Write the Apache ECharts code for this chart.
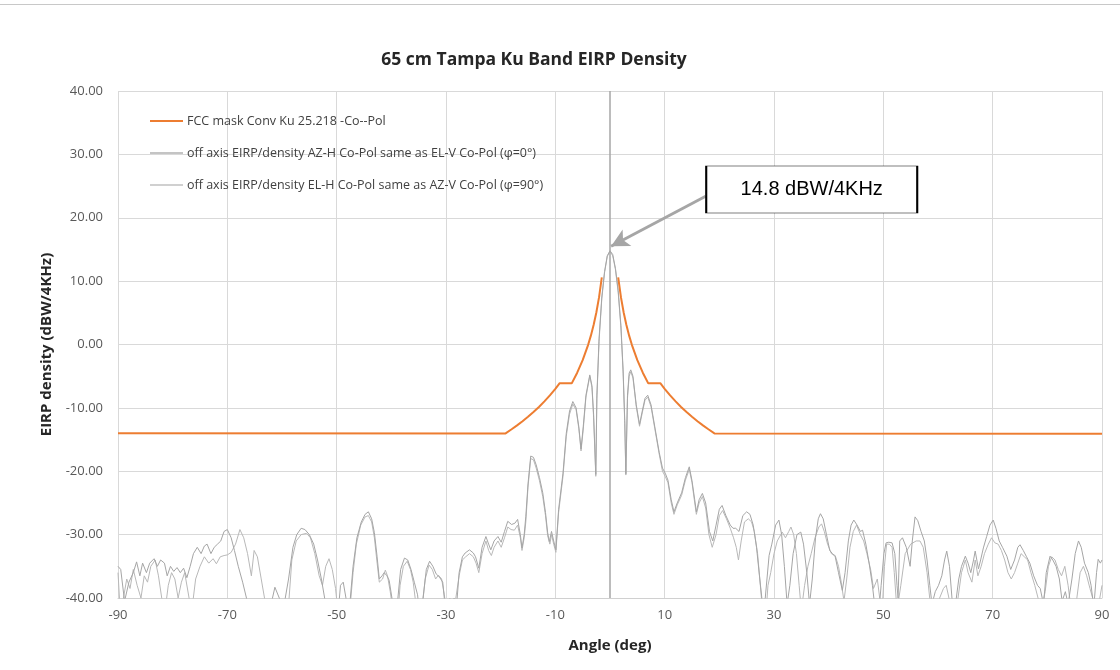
<!DOCTYPE html>
<html>
<head>
<meta charset="utf-8">
<script src="https://cdn.jsdelivr.net/npm/echarts@6/dist/echarts.min.js"></script>
<style>
html,body{margin:0;padding:0;background:#fff;}
#chart{width:1120px;height:670px;}
</style>
</head>
<body>
<div id="chart"></div>
<script>
const chartTitle = '65 cm Tampa Ku Band EIRP Density';
const seriesNames = [
  'FCC mask Conv Ku 25.218 -Co--Pol',
  'off axis EIRP/density AZ-H Co-Pol same as EL-V Co-Pol (\u03C6=0\u00B0)',
  'off axis EIRP/density EL-H Co-Pol same as AZ-V Co-Pol (\u03C6=90\u00B0)'
];
const xTicks = [-90, -70, -50, -30, -10, 10, 30, 50, 70, 90];
const yTicks = [-40, -30, -20, -10, 0, 10, 20, 30, 40];
const peakLabel = '14.8 dBW/4KHz';
const peakValue = 14.8;

// FCC mask (angle, dBW/4kHz); null = gap at boresight
const maskAngles = [-90, -19.1, -18, -17, -16, -15, -14, -13, -12, -11, -10, -9.2, -7, -6, -5, -4, -3.5, -3, -2.5, -2, -1.5, 0,
  1.5, 2, 2.5, 3, 3.5, 4, 5, 6, 7, 9.2, 10, 11, 12, 13, 14, 15, 16, 17, 18, 19.1, 90];
const maskValues = [-14, -14.03, -13.38, -12.76, -12.1, -11.4, -10.65, -9.85, -8.98, -8.03, -7.0, -6.1, -6.13, -4.45, -2.47, -0.05, 1.4, 3.07, 5.05, 7.47, 10.6, null,
  10.6, 7.47, 5.05, 3.07, 1.4, -0.05, -2.47, -4.45, -6.13, -6.1, -7.0, -8.03, -8.98, -9.85, -10.65, -11.4, -12.1, -12.76, -13.38, -14.03, -14.1];

// measured phi=0 cut [angle, dBW/4kHz]
const azHCoPol = [
[-90,-35],[-89.5,-35.5],[-88.8,-40.5],[-88,-37.5],[-87.2,-36],[-86.6,-34.3],[-86,-36.5],[-85.5,-34.5],[-84.8,-36],[-84.2,-34.5],
[-83.4,-33.8],[-82.8,-35],[-82.2,-34],[-81.5,-34.5],[-81,-36.5],[-80.4,-35],[-79.8,-35.8],[-79.2,-35.2],[-78.6,-36],[-78,-35.3],
[-77.4,-36.8],[-76.8,-35],[-76.2,-33],[-75.5,-32],[-74.8,-33],[-74.2,-31.8],[-73.7,-31.5],[-73,-33],[-72.4,-32],[-71.8,-31.5],
[-71.2,-31],[-70.6,-29.5],[-70,-29.2],[-69.3,-30.5],[-68.7,-32.5],[-68,-35],[-67.2,-37.5],[-66.5,-40],[-65.8,-44],[-63,-45],
[-62,-41],[-61.3,-38.3],[-60.5,-40],[-59.8,-42],[-59.5,-42],[-58.8,-37],[-58,-32],[-57.3,-30],[-56.5,-29],[-55.8,-29.2],
[-55,-30],[-54.2,-31.5],[-53.5,-34],[-52.8,-37],[-52.2,-40],[-51.6,-43],[-50,-45],[-49.3,-38],[-48.8,-37.5],[-48.3,-40],
[-47.8,-44],[-47.5,-40],[-47,-35],[-46.3,-30.5],[-45.5,-28],[-44.8,-26.8],[-44.2,-26.4],[-43.6,-27.5],[-43.1,-29.7],[-42.6,-33.5],
[-42.2,-37],[-41.7,-36.5],[-41.3,-36],[-40.8,-36.5],[-40.4,-37.2],[-39.8,-40.5],[-39.3,-44],[-38.8,-40],[-38.3,-35.5],[-37.6,-33.7],
[-37,-34],[-36.4,-35.5],[-35.8,-37.5],[-35.2,-39.5],[-34.8,-43],[-34.2,-40],[-33.6,-35.5],[-33,-34.2],[-32.4,-35],[-31.8,-36.2],
[-31.2,-36.7],[-30.6,-37.5],[-30.2,-41],[-29.6,-45],[-29,-40.5],[-28.5,-40],[-28,-40.5],[-27.6,-36],[-27,-33.5],[-26.5,-32.9],
[-25.7,-32.4],[-25,-32.9],[-24.6,-33.5],[-24,-35.3],[-23.4,-32],[-22.7,-30.3],[-22.2,-31.5],[-21.8,-32.4],[-21.2,-31],[-20.5,-30.3],
[-19.9,-31.2],[-19.3,-29.5],[-18.7,-27.9],[-18,-28.4],[-17.4,-28.2],[-16.9,-27.6],[-16.4,-30],[-16.1,-32.1],[-15.7,-30],[-15.4,-27.1],
[-15,-22],[-14.5,-17.6],[-14,-17.8],[-13.5,-19],[-12.9,-21],[-12.3,-23.4],[-11.8,-26.5],[-11.4,-29.7],[-11.1,-31.1],[-10.7,-29.5],
[-10.3,-31],[-9.9,-32.4],[-9.4,-26],[-8.6,-20.3],[-8,-14],[-7.4,-10.5],[-6.8,-9],[-6.2,-10],[-5.7,-13],[-5.3,-16.5],
[-4.9,-13],[-4.4,-8],[-3.7,-4.8],[-3.3,-6.5],[-3,-11],[-2.6,-20.5],[-2.4,-8],[-2,1],[-1.5,7.5],[-1,11.5],
[-0.5,14],[0,14.8],[0.5,14.2],[1,12],[1.5,8.5],[2,3],[2.4,-4],[2.7,-12],[2.9,-20.4],[3.2,-8],
[3.5,-4.5],[3.8,-4],[4.2,-5],[4.8,-9.5],[5.4,-12.6],[5.9,-10.5],[6.4,-8.5],[6.9,-8],[7.5,-9.5],[8.2,-13],
[9,-17],[9.6,-19.5],[10.1,-20.3],[10.6,-21.4],[11.2,-24.5],[11.7,-26.4],[12.3,-25],[13.1,-23.4],[13.8,-21],[14.5,-19.3],
[15,-21.5],[15.5,-24.5],[15.8,-26.4],[16.3,-24.5],[16.9,-23.5],[17.5,-25],[18.2,-29.5],[18.8,-31],[19.4,-28.5],[20,-26],
[20.5,-25.4],[21.2,-27],[22,-28.5],[22.5,-29],[23,-29],[23.6,-29.5],[24.3,-27],[25,-26.4],[25.6,-26.8],[26.2,-28.5],
[26.8,-32],[27.4,-37],[27.9,-41],[28.4,-40],[29.1,-33.3],[29.6,-31.5],[30.3,-28.5],[30.9,-27.7],[31.4,-30],[31.9,-35],
[32.4,-41],[32.9,-38],[33.5,-33],[34.2,-30],[34.9,-29.6],[35.4,-31.5],[36,-36],[36.5,-41],[37,-37],[37.6,-30.5],
[38.1,-27.5],[38.5,-26.7],[39,-27.5],[39.6,-30],[40.2,-32.5],[40.7,-33],[41.2,-33.5],[41.8,-36],[42.5,-38.8],[43,-36],
[43.6,-31],[44.1,-28.5],[44.6,-27.7],[45.2,-28.5],[45.8,-29.5],[46.2,-29.3],[46.8,-31.5],[47.4,-34.5],[48,-38],[48.4,-41],
[49,-44],[49.6,-38],[50.1,-33],[50.5,-31.3],[51,-31.2],[51.6,-31.3],[52.1,-33],[52.5,-38],[52.7,-40],[53,-31],
[53.5,-30.5],[54.2,-32],[54.9,-35],[55.3,-31],[55.8,-27.2],[56.3,-27.8],[56.9,-29.5],[57.5,-31],[58,-34],[58.5,-38],
[58.9,-41],[59.5,-39],[60.1,-38],[60.7,-36.5],[61.2,-34],[61.6,-32.6],[62.1,-35],[62.6,-40.5],[63.2,-41],[63.8,-37],
[64.3,-35],[65,-33.4],[65.5,-34.5],[66,-36],[66.5,-34],[66.8,-32.6],[67.4,-35.4],[67.8,-34],[68.3,-32.1],[68.9,-30.3],
[69.5,-28.5],[70.1,-27.7],[70.6,-29],[71.2,-31],[71.8,-32],[72.6,-33.4],[73.3,-35.5],[74,-34],[74.6,-32],[75,-31.6],
[75.6,-32.5],[76.2,-33.5],[76.8,-34.5],[77.5,-36.5],[78.2,-38],[78.7,-38.5],[79.3,-41],[79.8,-36],[80.5,-33.4],[81,-34],
[81.6,-35],[82.2,-37],[82.7,-40.5],[83.3,-39],[83.8,-41],[84.5,-37],[85.1,-33],[85.7,-31],[86.2,-32],[86.8,-34.5],
[87.5,-36],[88,-38],[88.5,-41.5],[89,-36],[89.3,-33.9],[89.7,-34.5],[90,-34]
];

// measured phi=90 cut [angle, dBW/4kHz]
const elHCoPol = [
[-90,-36],[-89.6,-42],[-89,-40],[-88.4,-37],[-87.8,-38.5],[-87.2,-35.5],[-86.5,-38],[-85.8,-40],[-85.2,-36.5],[-84.6,-37.5],
[-84,-35],[-83.2,-34],[-82.6,-36.5],[-82,-40],[-81.4,-42],[-80.8,-38],[-80.2,-36],[-79.6,-37],[-79,-40],[-78.4,-37.5],
[-77.8,-36],[-77,-40],[-76.5,-42],[-75.8,-37],[-75,-35],[-74.2,-33.5],[-73.4,-34.5],[-72.6,-33.8],[-72,-34.6],[-71.3,-33.5],
[-70.6,-33.3],[-70,-33.2],[-69.3,-32.8],[-68.5,-31.5],[-67.7,-29.2],[-67,-30.5],[-66.3,-33],[-65.6,-36.5],[-65.1,-32.5],[-64.5,-33.5],
[-63.8,-37],[-63.2,-40],[-62.5,-43],[-60,-44],[-59.2,-44],[-58.7,-40],[-58.2,-34],[-57.4,-31],[-56.5,-30],[-55.5,-29.8],
[-54.8,-30.5],[-54,-33],[-53.2,-36.5],[-52.6,-38],[-52,-35],[-51.4,-33.8],[-50.8,-35.5],[-50.2,-38.5],[-49.8,-42],[-48.5,-44],
[-47.6,-42],[-47,-36],[-46.4,-31.5],[-45.6,-28.5],[-44.8,-27.2],[-44.2,-27],[-43.6,-28],[-43.1,-30.5],[-42.6,-34.5],[-42.2,-37.5],
[-41.6,-37],[-41.1,-35.6],[-40.7,-36.5],[-40.2,-39],[-39.7,-42],[-38.9,-44],[-38.4,-38],[-37.8,-35],[-37.1,-34.2],[-36.5,-35.5],
[-36,-37.5],[-35.5,-41],[-35,-44],[-34.3,-41],[-33.8,-37],[-33.1,-34.8],[-32.5,-35.5],[-31.9,-37],[-31.4,-36.4],[-30.8,-37],
[-30.3,-39.5],[-29.8,-43],[-29.3,-40],[-28.8,-42],[-28.2,-40],[-27.6,-36.5],[-27,-34],[-26.4,-33.5],[-25.7,-33],[-25,-33.5],
[-24.5,-34.5],[-24,-36],[-23.4,-33],[-22.7,-31],[-22.2,-32.5],[-21.7,-33.3],[-21.2,-32],[-20.5,-31],[-19.9,-32],[-19.3,-30.5],
[-18.7,-28.8],[-18.1,-29.2],[-17.5,-29.3],[-16.9,-28.5],[-16.4,-30.5],[-16.1,-32.5],[-15.7,-30.5],[-15.4,-28],[-15,-22.5],[-14.5,-18],
[-14,-18.2],[-13.5,-19.5],[-12.9,-21.5],[-12.3,-24],[-11.8,-27],[-11.4,-30.2],[-11,-31.5],[-10.7,-30],[-10.3,-31.5],[-9.9,-32.8],
[-9.4,-26.5],[-8.6,-20.8],[-8,-14.5],[-7.4,-11],[-6.8,-9.4],[-6.2,-10.3],[-5.7,-13.3],[-5.3,-16.8],[-4.9,-13.5],[-4.4,-8.3],
[-3.7,-5],[-3.3,-6.8],[-3,-11.5],[-2.6,-20.8],[-2.4,-8.5],[-2,0.5],[-1.5,7.2],[-1,11.3],[-0.5,13.9],[0,14.7],
[0.5,14],[1,11.8],[1.5,8.2],[2,2.6],[2.4,-4.5],[2.7,-12.5],[2.9,-20.6],[3.2,-8.5],[3.5,-5],[3.8,-4.3],
[4.2,-5.3],[4.8,-9.8],[5.4,-12.9],[5.9,-10.8],[6.4,-8.8],[6.9,-8.3],[7.5,-9.8],[8.2,-13.3],[9,-17.3],[9.6,-20],
[10.1,-20.8],[10.6,-21.8],[11.2,-25],[11.7,-26.8],[12.3,-25.3],[13.1,-23.8],[13.8,-21.4],[14.5,-19.7],[15,-21.8],[15.5,-25],
[15.8,-26.8],[16.3,-25],[16.9,-24],[17.5,-25.8],[18.1,-30],[18.7,-32],[19.4,-30],[20,-27],[20.6,-26.2],[21.3,-27.5],
[22,-29],[22.6,-30.5],[23.1,-32],[23.5,-34],[24,-31],[24.6,-28],[25.3,-27.5],[25.9,-28],[26.4,-29.5],[27,-33],
[27.5,-38],[27.9,-42],[28.4,-44],[28.9,-38],[29.4,-36],[30,-33],[30.6,-31],[31.5,-29.6],[32.1,-30.5],[32.7,-29.5],
[33.1,-28.8],[33.6,-30],[34.1,-33],[34.6,-38],[35,-42],[35.6,-38],[36.2,-35],[36.8,-33],[37.5,-30.5],[38.2,-28.8],
[38.7,-28.3],[39.2,-29.5],[39.8,-31.5],[40.5,-33],[41.2,-33.3],[41.8,-35],[42.3,-37.5],[42.8,-40.5],[43.3,-37],[43.9,-32],
[44.5,-29.5],[45.1,-28.5],[45.8,-30],[46.4,-31],[47,-33],[47.7,-35.6],[48.2,-38.5],[48.9,-37],[49.4,-40.5],[49.8,-42],
[50.2,-35],[50.6,-31.5],[51.1,-31.5],[51.6,-32],[52,-36],[52.5,-42],[53.2,-38],[54,-33],[55,-31.5],[56,-31],
[56.7,-31],[57.3,-32],[58,-36],[58.6,-41],[59.5,-43],[60.3,-40],[61,-38.5],[61.5,-38],[62,-40],[62.5,-44],
[63.5,-41],[64.3,-36],[65,-34],[65.5,-36],[66.2,-37.5],[66.8,-34],[67.3,-36.5],[67.9,-35],[68.5,-33],[69.2,-31.5],
[69.8,-30.5],[70.4,-31.3],[71,-31.5],[71.6,-32.5],[72.2,-34],[72.8,-36],[73.4,-37],[74,-36],[74.6,-34.5],[75.2,-33],
[75.8,-33.5],[76.4,-34],[77,-36],[77.7,-38],[78.3,-40],[78.9,-42],[79.6,-39],[80.2,-35],[80.8,-33.5],[81.4,-34],
[82,-35.5],[82.6,-36.5],[83.2,-35],[83.8,-38],[84.3,-41.5],[85,-44],[85.4,-40],[86,-36],[86.6,-35],[87.2,-36.5],
[87.8,-38.5],[88.3,-40],[88.8,-42],[89.5,-40.5],[90,-38]
];

// annotation anchors in data units
const calloutAt = [36.9, 24.45];
const arrowFrom = [17.5, 23.4];
const arrowTo = [0.2, 15.5];

const maskData = maskAngles.map((a, i) => [a, maskValues[i] === null ? '-' : maskValues[i]]);

const chart = echarts.init(document.getElementById('chart'), null, {renderer: 'canvas'});
const FONT = '"Open Sans", "Noto Sans", sans-serif';
chart.setOption({
  backgroundColor: '#ffffff',
  animation: false,
  title: {
    text: chartTitle,
    left: 529, top: 46, textAlign: 'center',
    textStyle: {fontFamily: FONT, fontSize: 17.5, fontWeight: 'bold', color: '#262626'}
  },
  graphic: [{
    type: 'line', shape: {x1: 0, y1: 4.5, x2: 1120, y2: 4.5},
    style: {stroke: '#c8c8c8', lineWidth: 1}, silent: true
  }],
  legend: {
    orient: 'vertical', left: 145, top: 109,
    icon: 'rect',
    itemWidth: 33, itemHeight: 2, itemGap: 18,
    data: [
      {name: seriesNames[0], itemStyle: {color: '#ed7d31'}},
      {name: seriesNames[1], itemStyle: {color: '#c4c4c4'}},
      {name: seriesNames[2], itemStyle: {color: '#d0d0d0'}}
    ],
    textStyle: {fontFamily: FONT, fontSize: 12.5, color: '#404040', lineHeight: 14, padding: [0, 0, 0, -1]},
    selectedMode: false
  },
  grid: {left: 118, right: 18, top: 91, bottom: 72, containLabel: false},
  xAxis: {
    type: 'value', min: xTicks[0], max: xTicks[xTicks.length - 1], interval: 20,
    name: 'Angle (deg)', nameLocation: 'middle', nameGap: 40,
    nameTextStyle: {fontFamily: FONT, fontSize: 15, fontWeight: 'bold', color: '#262626'},
    axisLine: {show: true, onZero: false, lineStyle: {color: '#d0d0d0', width: 1}},
    axisTick: {show: false},
    axisLabel: {fontFamily: FONT, fontSize: 13, color: '#595959', margin: 11},
    splitLine: {show: true, lineStyle: {color: '#d9d9d9', width: 1}}
  },
  yAxis: {
    type: 'value', min: yTicks[0], max: yTicks[yTicks.length - 1], interval: 10,
    name: 'EIRP density (dBW/4KHz)', nameLocation: 'middle', nameGap: 64, nameRotate: 90,
    nameTextStyle: {fontFamily: FONT, fontSize: 15, fontWeight: 'bold', color: '#262626'},
    axisLine: {show: false},
    axisTick: {show: false},
    axisLabel: {fontFamily: FONT, fontSize: 13, color: '#595959', margin: 15, formatter: v => v.toFixed(2)},
    splitLine: {show: true, lineStyle: {color: '#d9d9d9', width: 1}}
  },
  series: [
    {
      name: seriesNames[0], type: 'line', data: maskData, showSymbol: false, symbol: 'none',
      lineStyle: {color: '#ed7d31', width: 2}, itemStyle: {color: '#ed7d31'}, z: 5
    },
    {
      name: seriesNames[1], type: 'line', data: azHCoPol, showSymbol: false, symbol: 'none',
      lineStyle: {color: '#a5a5a5', width: 1}, itemStyle: {color: '#a5a5a5'}, z: 3,
      markLine: {
        silent: true, symbol: ['none', 'none'], label: {show: false},
        lineStyle: {color: '#a6a6a6', width: 1.5, type: 'solid'},
        data: [{xAxis: 0}]
      }
    },
    {
      name: seriesNames[2], type: 'line', data: elHCoPol, showSymbol: false, symbol: 'none',
      lineStyle: {color: '#b8b8b8', width: 1}, itemStyle: {color: '#b8b8b8'}, z: 2,
      markLine: {
        silent: true, symbol: ['none', 'arrow'], symbolSize: [14, 18], label: {show: false},
        lineStyle: {color: '#a6a6a6', width: 3, type: 'solid'},
        data: [[{coord: arrowFrom}, {coord: arrowTo}]]
      },
      markPoint: {
        silent: true,
        symbol: 'rect', symbolSize: [211, 47],
        itemStyle: {color: '#ffffff', borderColor: '#000000', borderWidth: 1},
        label: {show: true, position: 'inside', formatter: peakLabel,
          fontFamily: '"Liberation Sans", Arial, sans-serif', fontSize: 20, color: '#000000'},
        data: [{coord: calloutAt, value: peakValue}]
      }
    }
  ]
});
</script>
</body>
</html>
